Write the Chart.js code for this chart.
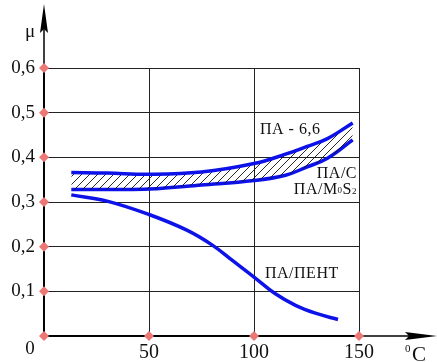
<!DOCTYPE html>
<html>
<head>
<meta charset="utf-8">
<script src="https://cdn.jsdelivr.net/npm/chart.js@4"></script>
<style>
  body { margin: 0; background: #fff; }
  #wrap { position: relative; width: 437px; height: 362px; }
</style>
</head>
<body>
<div id="wrap"><canvas id="frictionChart"></canvas></div>
<script>
// temperature, degC
var tempsBand = [13, 30, 50, 75, 100, 115, 125, 135, 147];
// upper edge of hatched band (ПА - 6,6)
var muPA66 = [0.366, 0.365, 0.362, 0.367, 0.386, 0.407, 0.424, 0.442, 0.477];
// lower edge of hatched band (ПА/С, ПА/MoS2)
var muPAC = [0.328, 0.328, 0.329, 0.338, 0.348, 0.360, 0.378, 0.398, 0.439];

var tempsPent = [13, 30, 50, 68, 80, 90, 100, 110, 120, 130, 140];
var muPent = [0.316, 0.302, 0.272, 0.237, 0.204, 0.168, 0.132, 0.095, 0.068, 0.050, 0.037];

var xTicks = [0, 50, 100, 150];
var xTickLabels = ['', '50', '100', '150'];
var yTicks = [0, 0.1, 0.2, 0.3, 0.4, 0.5, 0.6];
var yTickLabels = ['', '0,1', '0,2', '0,3', '0,4', '0,5', '0,6'];

function toPoints(xs, ys) {
    return xs.map(function (x, i) { return { x: x, y: ys[i] }; });
}

// tick markers on the axes
var markerPoints = [];
yTicks.forEach(function (v) { if (v > 0) markerPoints.push({ x: 0, y: v }); });
xTicks.forEach(function (v) { markerPoints.push({ x: v, y: 0 }); });

// hatch pattern for the band
function makeHatch() {
    var c = document.createElement('canvas');
    c.width = 8; c.height = 8;
    var g = c.getContext('2d');
    g.strokeStyle = '#111';
    g.lineWidth = 0.9;
    g.beginPath();
    g.moveTo(0, 8); g.lineTo(8, 0);
    g.moveTo(-2, 2); g.lineTo(2, -2);
    g.moveTo(6, 10); g.lineTo(10, 6);
    g.stroke();
    return g.createPattern(c, 'repeat');
}

var SERIF = '"Times New Roman", "Liberation Serif", Times, serif';
var BLUE = 'rgb(12, 18, 232)';

var decorPlugin = {
    id: 'decor',
    beforeDatasetsDraw: function (chart) {
        var ctx = chart.ctx;
        var xs = chart.scales.x, ys = chart.scales.y;
        var x0 = xs.getPixelForValue(0), y0 = ys.getPixelForValue(0);
        ctx.save();
        ctx.strokeStyle = '#000';
        ctx.fillStyle = '#000';
        ctx.lineWidth = 1.5;
        // y axis extension + arrow
        ctx.beginPath();
        ctx.moveTo(x0, y0);
        ctx.lineTo(x0, 20);
        ctx.stroke();
        ctx.beginPath();
        ctx.moveTo(x0, 4);
        ctx.lineTo(x0 - 4, 33);
        ctx.lineTo(x0, 29);
        ctx.lineTo(x0 + 4, 33);
        ctx.closePath();
        ctx.fill();
        // x axis extension + arrow
        ctx.beginPath();
        ctx.moveTo(x0, y0);
        ctx.lineTo(420, y0);
        ctx.stroke();
        ctx.beginPath();
        ctx.moveTo(437, y0);
        ctx.lineTo(405, y0 - 4);
        ctx.lineTo(409, y0);
        ctx.lineTo(405, y0 + 4);
        ctx.closePath();
        ctx.fill();
        ctx.restore();
    },
    afterDraw: function (chart) {
        var ctx = chart.ctx;
        var xs = chart.scales.x, ys = chart.scales.y;
        ctx.save();
        ctx.fillStyle = '#111';
        ctx.textBaseline = 'alphabetic';

        // axis titles
        ctx.font = '19px ' + SERIF;
        ctx.textAlign = 'center';
        ctx.fillText('μ', 30, 37);
        ctx.fillText('0', 30, 354);
        ctx.font = '11px ' + SERIF;
        ctx.textAlign = 'left';
        ctx.fillText('0', 405, 352);
        ctx.font = '21px ' + SERIF;
        ctx.fillText('C', 412, 361);

        // curve labels
        ctx.font = '16px ' + SERIF;
        ctx.textAlign = 'left';
        ctx.letterSpacing = '0.5px';
        ctx.fillText('ПА - 6,6', 260, 134);
        ctx.fillText('ПА/ПЕНТ', 265, 278);

        var right = xs.getPixelForValue(150) - 2;
        ctx.textAlign = 'right';
        ctx.fillText('ПА/С', right, 178);

        // ПА/M0S2 with small 0 and subscript 2
        var parts = [
            { t: 'ПА/М', f: '16px ', dy: 0 },
            { t: '0', f: '9px ', dy: -1 },
            { t: 'S', f: '16px ', dy: 0 },
            { t: '2', f: '9px ', dy: 0 }
        ];
        var total = 0;
        parts.forEach(function (p) { ctx.font = p.f + SERIF; p.w = ctx.measureText(p.t).width; total += p.w; });
        var x = right - total;
        ctx.textAlign = 'left';
        parts.forEach(function (p) {
            ctx.font = p.f + SERIF;
            ctx.fillText(p.t, x, 194 + p.dy);
            x += p.w;
        });
        ctx.restore();
    }
};

var ctx = document.getElementById('frictionChart').getContext('2d');
var frictionChart = new Chart(ctx, {
    type: 'line',
    data: {
        datasets: [
            {
                label: 'ПА - 6,6',
                data: toPoints(tempsBand, muPA66),
                borderColor: BLUE,
                borderWidth: 3.5,
                pointRadius: 0,
                tension: 0.4,
                fill: '+1',
                backgroundColor: makeHatch()
            },
            {
                label: 'ПА/С',
                data: toPoints(tempsBand, muPAC),
                borderColor: BLUE,
                borderWidth: 3.5,
                pointRadius: 0,
                tension: 0.4,
                fill: false
            },
            {
                label: 'ПА/ПЕНТ',
                data: toPoints(tempsPent, muPent),
                borderColor: BLUE,
                borderWidth: 3.5,
                pointRadius: 0,
                tension: 0.4,
                fill: false
            },
            {
                label: 'ticks',
                type: 'scatter',
                data: markerPoints,
                pointStyle: 'rectRot',
                pointRadius: 5,
                backgroundColor: 'rgb(236, 120, 118)',
                borderColor: 'rgb(236, 120, 118)',
                borderWidth: 0,
                clip: false
            }
        ]
    },
    options: {
        responsive: true,
        maintainAspectRatio: false,
        animation: false,
        events: [],
        layout: { padding: { top: 68, right: 78, left: 0, bottom: 0 } },
        plugins: {
            legend: { display: false },
            tooltip: { enabled: false }
        },
        scales: {
            x: {
                type: 'linear',
                min: 0,
                max: 150,
                afterFit: function (scale) { scale.height = 26; },
                afterBuildTicks: function (scale) {
                    scale.ticks = xTicks.map(function (v) { return { value: v }; });
                },
                grid: { color: '#222', lineWidth: 1, drawTicks: false },
                border: { color: '#000', width: 1.5 },
                ticks: {
                    padding: 5,
                    color: '#111',
                    font: { family: SERIF, size: 20 },
                    callback: function (v, i) { return xTickLabels[i]; }
                }
            },
            y: {
                type: 'linear',
                min: 0,
                max: 0.6,
                afterFit: function (scale) { scale.width = 44; },
                afterBuildTicks: function (scale) {
                    scale.ticks = yTicks.map(function (v) { return { value: v }; });
                },
                grid: { color: '#222', lineWidth: 1, drawTicks: false },
                border: { color: '#000', width: 1.5 },
                ticks: {
                    padding: 9,
                    color: '#111',
                    font: { family: SERIF, size: 19 },
                    callback: function (v, i) { return yTickLabels[i]; }
                }
            }
        }
    },
    plugins: [decorPlugin]
});
</script>
</body>
</html>
